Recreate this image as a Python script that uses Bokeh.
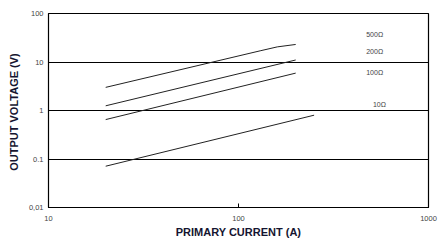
from bokeh.plotting import figure
from bokeh.models import FixedTicker, ColumnDataSource
from bokeh.embed import file_html
from bokeh.resources import INLINE
from bokeh.core.properties import value

# Data
i_500 = [20, 130, 160, 200]
v_500 = [3.0, 17.0, 20.5, 23.0]
i_200 = [20, 200]
v_200 = [1.25, 11.0]
i_100 = [20, 200]
v_100 = [0.65, 5.9]
i_10 = [20, 250]
v_10 = [0.071, 0.8]

series_labels = ["500Ω", "200Ω", "100Ω", "10Ω"]
label_i = [470, 470, 470, 510]
label_v = [36.9, 16.4, 6.1, 1.33]

x_ticks = [10, 100, 1000]
x_tick_labels = ["10", "100", "1000"]
y_ticks = [0.01, 0.1, 1, 10, 100]
y_tick_labels = ["0,01", "0.1", "1", "10", "100"]

p = figure(width=448, height=248, x_axis_type="log", y_axis_type="log",
           x_range=(10, 1000), y_range=(0.01, 100),
           output_backend="svg", toolbar_location=None,
           min_border_left=48, min_border_right=20,
           min_border_top=13, min_border_bottom=41)
p.background_fill_color = "white"
p.border_fill_color = "white"
p.outline_line_color = "black"
p.outline_line_width = 1.2

# grid
p.xgrid.visible = False
p.ygrid.ticker = FixedTicker(ticks=[0.1, 1, 10])
p.ygrid.grid_line_color = "black"
p.ygrid.grid_line_width = 1.2

font = "Liberation Sans"
title_color = "#151530"

xa = p.xaxis[0]
xa.ticker = FixedTicker(ticks=x_ticks, minor_ticks=[])
xa.major_label_overrides = {t: l for t, l in zip(x_ticks, x_tick_labels)}
xa.axis_line_color = "black"
xa.major_tick_in = 4
xa.major_tick_out = 0
xa.minor_tick_in = 0
xa.minor_tick_out = 0
xa.major_label_text_font = font
xa.major_label_text_font_size = "7.5px"
xa.major_label_standoff = 8
xa.axis_label = "PRIMARY CURRENT (A)"
xa.axis_label_text_font = font
xa.axis_label_text_font_size = "11px"
xa.axis_label_text_font_style = "bold"
xa.axis_label_text_color = title_color
xa.axis_label_standoff = 2

ya = p.yaxis[0]
ya.ticker = FixedTicker(ticks=y_ticks, minor_ticks=[])
ya.major_label_overrides = {t: l for t, l in zip(y_ticks, y_tick_labels)}
ya.axis_line_color = "black"
ya.major_tick_in = 0
ya.major_tick_out = 0
ya.minor_tick_in = 0
ya.minor_tick_out = 0
ya.major_label_text_font = font
ya.major_label_text_font_size = "7.5px"
ya.major_label_standoff = 5
ya.axis_label = "OUTPUT VOLTAGE  (V)"
ya.axis_label_text_font = font
ya.axis_label_text_font_size = "11px"
ya.axis_label_text_font_style = "bold"
ya.axis_label_text_color = title_color
ya.axis_label_standoff = 6

for xs, ys in [(i_500, v_500), (i_200, v_200), (i_100, v_100), (i_10, v_10)]:
    p.line(xs, ys, line_color="#222222", line_width=1)

src = ColumnDataSource(dict(x=label_i, y=label_v, t=series_labels))
p.text(x="x", y="y", text="t", source=src, text_font=value(font),
       text_font_size="7px", text_color="#444444",
       text_align="left", text_baseline="middle")

open("out.html", "w").write(file_html(p, INLINE))
